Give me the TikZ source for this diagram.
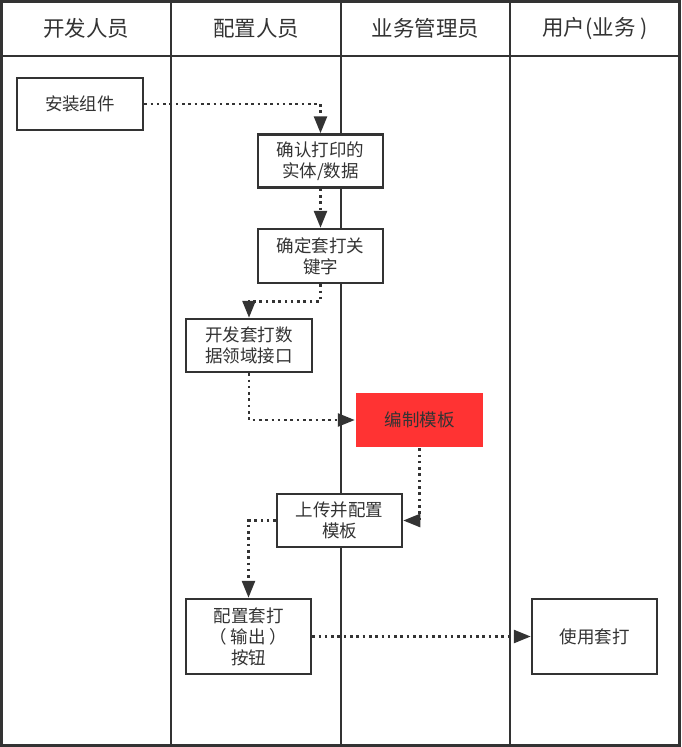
\documentclass[tikz,border=0pt]{standalone}
\usepackage{fontspec}
\setmainfont{Noto Sans CJK SC}
\usetikzlibrary{arrows.meta}
\definecolor{ln}{HTML}{333333}
\definecolor{redbox}{HTML}{FF3333}
\tikzset{
  lane/.style={draw=ln, line width=2.5pt},
  hdr/.style={text=ln, font=\fontsize{21.5}{25}\selectfont},
  box/.style={draw=ln, line width=2.5pt, fill=white, text=ln, align=center,
    inner sep=0pt, font=\fontsize{17.5}{21}\selectfont},
  flow/.style={draw=ln, line width=2.6pt, dash pattern=on 2.6pt off 3.7pt,
    -{Triangle[length=17pt,width=13pt]}},
}
\begin{document}
\begin{tikzpicture}[x=1pt,y=-1pt]
\useasboundingbox (0,0) rectangle (681,747);
\fill[white] (0,0) rectangle (681,747);
% frame and lanes
\draw[lane] (1.5,1.5) rectangle (679.5,745.5);
\draw[lane] (1.5,56) -- (679.5,56);
\draw[lane] (171,1.5) -- (171,745.5);
\draw[lane] (341,1.5) -- (341,745.5);
\draw[lane] (510,1.5) -- (510,745.5);
% headers
\node[hdr] (h1) at (86,28.5) {开发人员};
\node[hdr] (h2) at (256,28.5) {配置人员};
\node[hdr] (h3) at (425.5,28.5) {业务管理员};
\node[hdr] (h4) at (595,28.5) {用户(业务 )};
% boxes
\node[box, minimum width=126pt, minimum height=52pt] (a) at (80,104) {安装组件};
\node[box, minimum width=125pt, minimum height=53pt] (b) at (320.5,161) {确认打印的\\实体/数据};
\node[box, minimum width=125pt, minimum height=54pt] (c) at (320.5,256) {确定套打关\\键字};
\node[box, minimum width=126pt, minimum height=53pt] (d) at (249,345.5) {开发套打数\\据领域接口};
\node[box, draw=none, fill=redbox, minimum width=127pt, minimum height=54pt] (e) at (419.5,420) {编制模板};
\node[box, minimum width=125pt, minimum height=53pt] (f) at (339.5,520.5) {上传并配置\\模板};
\node[box, minimum width=125pt, minimum height=75pt] (g) at (248.5,636.5) {配置套打\\（ 输出 ）\\按钮};
\node[box, minimum width=125pt, minimum height=75pt] (h) at (594.5,636.5) {使用套打};
% connectors
\draw[flow] (a.east) -| (b.north);
\draw[flow] (b.south) -- (c.north);
\draw[flow] (c.south) -- ++(0,17) -| (d.north);
\draw[flow] (d.south) |- (e.west);
\draw[flow] (e.south) |- (f.east);
\draw[flow] (f.west) -| (g.north);
\draw[flow] (g.east) -- (h.west);
\end{tikzpicture}
\end{document}
